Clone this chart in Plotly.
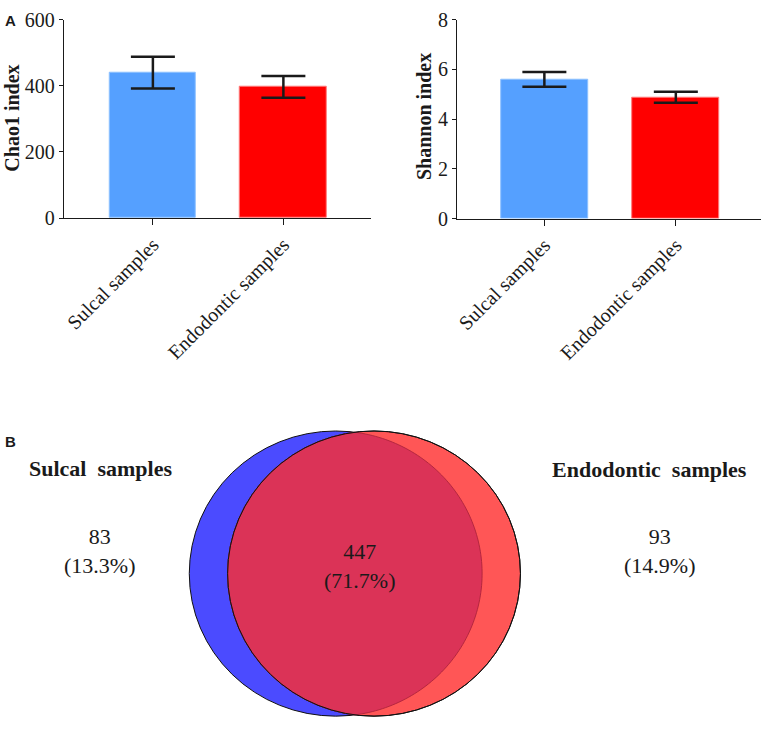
import numpy as np
import plotly.graph_objects as go

#----------------------------------- data -----------------------------------
groups = ["Sulcal samples", "Endodontic samples"]
chao1_mean = [440, 397]
chao1_err = [48, 33]
shannon_mean = [5.6, 4.88]
shannon_err = [0.30, 0.22]
bar_colors = ["#55A0FF", "#FF0000"]
bar_edges = ["#8DC1FF", "#FF7A7A"]

venn_names = ["Sulcal samples", "Endodontic samples"]
venn_only = [83, 93]      # unique OTUs sulcal / endodontic
venn_shared = 447
venn_total = sum(venn_only) + venn_shared

#------------------------------- page geometry ------------------------------
W, H = 765, 732
def px(x): return x / W
def py(y): return 1 - y / H

SERIF = "Liberation Serif, Times New Roman, serif"
SANS = "Liberation Sans, Arial, sans-serif"
INK = "#1a1a1a"

fig = go.Figure()

# panel A - bars with SEM
for (m, e, ax) in [(chao1_mean, chao1_err, "1"), (shannon_mean, shannon_err, "2")]:
    fig.add_trace(go.Bar(
        x=groups, y=m, width=0.664,
        marker=dict(color=bar_colors, line=dict(color=bar_edges, width=1)),
        error_y=dict(type="data", array=e, color=INK, thickness=2.5, width=22),
        xaxis="x" if ax == "1" else "x2", yaxis="y" if ax == "1" else "y2",
        showlegend=False, hoverinfo="skip"))

axcommon = dict(showline=True, linecolor=INK, linewidth=1.2, showgrid=False,
                zeroline=False, ticks="outside", tickcolor=INK, tickwidth=1.2,
                ticklabeloverflow="allow",
                tickfont=dict(family=SERIF, size=20, color=INK))
fig.update_layout(
    xaxis=dict(domain=[px(61), px(369)], range=[-0.683, 1.668], type="category",
               anchor="y", ticklen=6, tickangle=-45, **axcommon),
    yaxis=dict(domain=[py(213.5), py(9)], range=[0, 600], tickvals=[0, 200, 400, 600],
               anchor="x", ticklen=4, **axcommon),
    xaxis2=dict(domain=[px(456), px(761)], range=[-0.663, 1.648], type="category",
                anchor="y2", ticklen=6, tickangle=-45, **axcommon),
    yaxis2=dict(domain=[py(214), py(9)], range=[0, 8], tickvals=[0, 2, 4, 6, 8],
                anchor="x2", ticklen=4, **axcommon),
)

ann = []
ann.append(dict(text="<b>Chao1 index</b>", x=px(9), y=py(110), textangle=-90,
                font=dict(family=SERIF, size=20, color=INK)))
ann.append(dict(text="<b>Shannon index</b>", x=px(422), y=py(109), textangle=-90,
                font=dict(family=SERIF, size=20, color=INK)))
ann.append(dict(text="<b>A</b>", x=px(8), y=py(10), font=dict(family=SANS, size=15, color=INK)))
ann.append(dict(text="<b>B</b>", x=px(8), y=py(444), font=dict(family=SANS, size=15, color=INK)))

#---------------------------------- panel B ----------------------------------
r = 147.0
cy = 580.0
c1, c2 = 334.0, 372.5    # blue, red centres (px)
d = c2 - c1

def circ(cx, **kw):
    return dict(type="circle", xref="paper", yref="paper",
                x0=px(cx - r), x1=px(cx + r), y0=py(cy + r), y1=py(cy - r), **kw)

# lens polygon (red arc on the left + blue arc on the right)
ti = np.arccos(-d / (2 * r))
th = np.linspace(ti, 2 * np.pi - ti, 120)
xs = list(c2 + r * np.cos(th)); ys = list(cy + r * np.sin(th))
pi_ = np.arccos(d / (2 * r))
ph = np.linspace(-pi_, pi_, 120)
xs += list(c1 + r * np.cos(ph)); ys += list(cy + r * np.sin(ph))
lens = "M " + " L ".join(f"{px(a):.5f},{py(b):.5f}" for a, b in zip(xs, ys)) + " Z"

shapes = [
    circ(c1, fillcolor="#4B4BFF", line=dict(color="#111", width=1)),
    circ(c2, fillcolor="#FF5656", line=dict(color="#111", width=1)),
    dict(type="path", xref="paper", yref="paper", path=lens, fillcolor="#DB3357",
         line=dict(color="rgba(175,35,60,0.9)", width=1)),
    circ(c2, fillcolor="rgba(0,0,0,0)", line=dict(color="#111", width=1)),
]

def pct(v): return f"{v / venn_total * 100:.1f}%"

ann.append(dict(text="<b>" + venn_names[0].replace(" ", "\u00a0 ") + "</b>", x=px(97.5), y=py(472),
                font=dict(family=SERIF, size=22, color=INK)))
ann.append(dict(text="<b>" + venn_names[1].replace(" ", "\u00a0 ") + "</b>", x=px(649), y=py(473),
                font=dict(family=SERIF, size=22, color=INK)))
ann.append(dict(text=f"{venn_only[0]}<br>({pct(venn_only[0])})", x=px(97), y=py(557),
                font=dict(family=SERIF, size=22, color=INK)))
ann.append(dict(text=f"{venn_only[1]}<br>({pct(venn_only[1])})", x=px(659), y=py(557),
                font=dict(family=SERIF, size=22, color=INK)))
ann.append(dict(text=f"{venn_shared}<br>({pct(venn_shared)})", x=px(358), y=py(572),
                font=dict(family=SERIF, size=22, color=INK)))
for a in ann:
    a.update(xref="paper", yref="paper", showarrow=False, xanchor="center", yanchor="middle")

fig.update_layout(width=W, height=H, margin=dict(l=0, r=0, t=0, b=0),
                  paper_bgcolor="white", plot_bgcolor="white",
                  annotations=ann, shapes=shapes, bargap=0)

# browser default body margin would push the figure 8px right/down
fig.write_html("out.html", config={"displayModeBar": False},
               post_script="document.body.style.margin='0';")
